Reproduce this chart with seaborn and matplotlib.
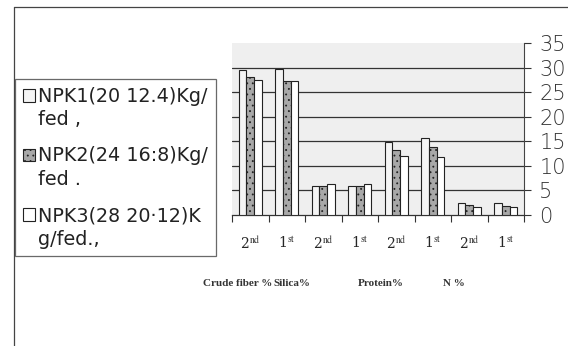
import matplotlib
matplotlib.use("Agg")
import matplotlib.pyplot as plt
import seaborn as sns
import pandas as pd
import numpy as np
from matplotlib.lines import Line2D

# ---- data ----
groups = ["Crude fiber %", "Crude fiber %", "Silica%", "Silica%",
          "Protein%", "Protein%", "N %", "N %"]
seasons = ["2nd", "1st", "2nd", "1st", "2nd", "1st", "2nd", "1st"]
tick_labels = ["2$^{\\mathrm{nd}}$", "1$^{\\mathrm{st}}$"] * 4
series_names = ["NPK1(20 12.4)Kg/\nfed ,", "NPK2(24 16:8)Kg/\nfed .", "NPK3(28 20·12)K\ng/fed.,"]
npk1 = [29.5, 29.8, 5.8, 5.9, 14.8, 15.7, 2.4, 2.4]
npk2 = [28.1, 27.3, 5.8, 5.9, 13.2, 13.8, 2.0, 1.9]
npk3 = [27.5, 27.3, 6.3, 6.3, 12.1, 11.9, 1.7, 1.7]
y_ticks = [0, 5, 10, 15, 20, 25, 30, 35]
category_labels = ["Crude fiber %", "Silica%", "Protein%", "N %"]

cats = [f"{g}|{s}" for g, s in zip(groups, seasons)]
rows = []
for name, vals in zip(series_names, [npk1, npk2, npk3]):
    for c, v in zip(cats, vals):
        rows.append({"cat": c, "series": name, "value": v})
df = pd.DataFrame(rows)

sns.set_style("white")
plt.rcParams["font.family"] = ["DejaVu Sans"]
plt.rcParams["mathtext.fontset"] = "stix"
plt.rcParams["hatch.linewidth"] = 0.6

fig = plt.figure(figsize=(5.68, 3.46), dpi=100)
ax = fig.add_axes([232 / 568, 1 - 215 / 346, (524 - 232) / 568, (215 - 43) / 346])
ax.set_facecolor("#efefef")

palette = ["#f4f4f4", "#a8a8a8", "#ffffff"]
sns.barplot(data=df, x="cat", y="value", hue="series", order=cats,
            hue_order=series_names, palette=palette, width=0.64,
            edgecolor="#222222", linewidth=0.8, ax=ax, legend=True, zorder=3)

for i, cont in enumerate(ax.containers):
    for p in cont:
        if i == 1:
            p.set_hatch("...")

ax.set_ylim(0, 35)
ax.set_xlim(-0.5, len(cats) - 0.5)
ax.set_xlabel("")
ax.set_ylabel("")

# right axis
ax.yaxis.tick_right()
ax.set_yticks(y_ticks)
ax.set_yticklabels([str(t) for t in y_ticks], fontsize=15, fontweight="light",
                   color="#333333")
ax.tick_params(axis="y", which="major", direction="out", length=5, width=0.8,
               pad=6, colors="#333333", labelcolor="#333333", right=True, left=False)

ax.yaxis.grid(True, color="#333333", linewidth=0.9, zorder=1)
ax.set_axisbelow(True)
for gl, t in zip(ax.get_ygridlines(), y_ticks):
    if t in (0, 35):
        gl.set_visible(False)

for s in ["top", "left"]:
    ax.spines[s].set_visible(False)
ax.spines["right"].set_color("#444444")
ax.spines["right"].set_linewidth(0.8)
ax.spines["right"].set_linestyle((0, (2, 1)))
ax.spines["bottom"].set_color("#333333")
ax.spines["bottom"].set_linewidth(0.9)

# x ticks
ax.set_xticks(range(len(cats)))
ax.set_xticklabels(tick_labels, fontsize=10, family="serif")
ax.tick_params(axis="x", which="major", length=0, pad=15)
ax.set_xticks(np.arange(-0.5, len(cats), 1.0), minor=True)
ax.tick_params(axis="x", which="minor", length=5, width=0.8, color="#333333",
               direction="out", bottom=True)

# category labels
cat_x = [203, 273, 358, 443]
for lab, x in zip(category_labels, cat_x):
    fig.text(x / 568, 1 - 283 / 346, lab, fontsize=8, family="Liberation Serif",
             fontweight="bold", ha="left", va="center", color="#333333")

# legend
handles, labels = ax.get_legend_handles_labels()
ax.get_legend().remove()
leg = fig.legend(handles, labels, loc="upper left",
                 bbox_to_anchor=(15 / 568, 1 - 79 / 346),
                 fontsize=13.8, frameon=True, fancybox=False, edgecolor="#444444",
                 handlelength=0.65, handleheight=0.65, handletextpad=0.15,
                 labelspacing=0.9, borderpad=0.4, borderaxespad=0)
leg.get_frame().set_linewidth(0.9)
for t in leg.get_texts():
    t.set_linespacing(1.3)
    t.set_color("#222222")
for h in leg.legend_handles:
    h.set_y(h.get_y() + 9.7)
    h.set_linewidth(0.8)
leg.legend_handles[1].set_hatch("...")

# outer frame lines
fig.add_artist(Line2D([14 / 568, 14 / 568], [0, 1 - 7 / 346], color="#444444",
                      linewidth=0.9, transform=fig.transFigure))
fig.add_artist(Line2D([14 / 568, 1], [1 - 7 / 346, 1 - 7 / 346], color="#444444",
                      linewidth=0.9, transform=fig.transFigure))

fig.savefig("out.png", dpi=100)
